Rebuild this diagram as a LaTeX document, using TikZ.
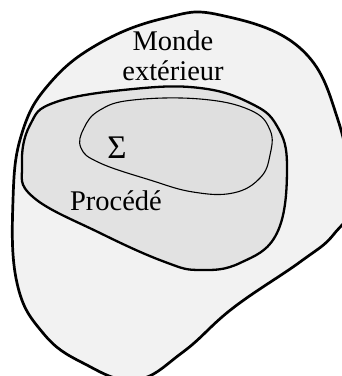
\documentclass[tikz,border=0pt]{standalone}
\usepackage{fontspec}
\setmainfont{Liberation Serif}
\usepackage{xcolor}
\definecolor{fondext}{HTML}{F2F2F2}
\definecolor{fondproc}{HTML}{E2E2E2}
\definecolor{fondsys}{HTML}{DFDFDF}
\usetikzlibrary{positioning}
\begin{document}
\begin{tikzpicture}[
  x=1pt, y=-1pt,
  zone/.style={draw=black, line join=round, smooth cycle, tension=0.7},
  etiq/.style={font=\fontsize{28.5}{30}\selectfont, inner sep=0pt, align=center}
]
\useasboundingbox (0,0) rectangle (342,376);
\clip (0,0) rectangle (342,376);
\fill[white] (0,0) rectangle (342,376);
% monde exterieur
\draw[zone, fill=fondext, line width=2.7pt] plot coordinates {
  (220,15) (300,48) (338,120) (350,200) (334,234) (300,262)
  (233,308) (183,352) (135,380) (83,363) (43,333) (17,283)
  (13,200) (22,133) (50,83) (100,43) (165,18)};
% procede
\draw[zone, fill=fondproc, line width=2.3pt] plot coordinates {
  (133,89) (200,88) (250,103) (277,126) (287,167) (277,233)
  (240,263) (200,270) (165,262) (100,233) (33,197) (22,165)
  (30,125) (56,102)};
% systeme
\draw[zone, fill=fondsys, line width=1.1pt] plot coordinates {
  (133,100) (200,99) (250,110) (270,130) (270,155) (260,178)
  (233,193) (193,192) (150,180) (100,163) (81,148) (84,128)
  (100,110)};
% textes
\node[etiq] (monde) at (173,56) {Monde\\[0pt]extérieur};
\node[etiq] (sigma) at (117,148) {\fontsize{33}{33}\selectfont Σ};
\node[etiq] (proc) at (116,201) {Procédé};
\end{tikzpicture}
\end{document}
